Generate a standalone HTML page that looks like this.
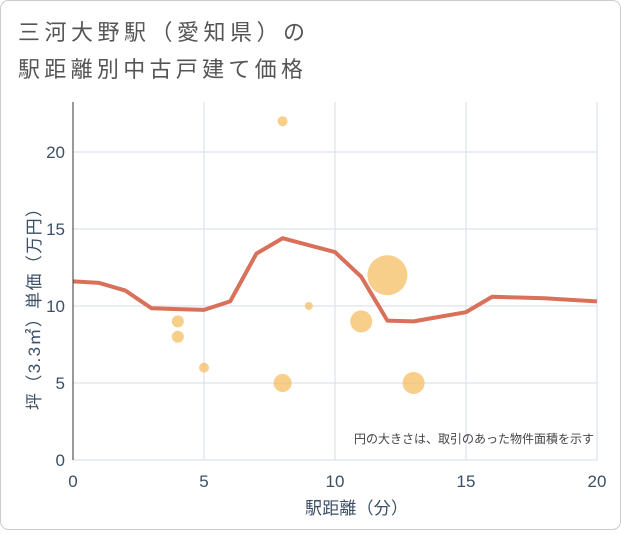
<!DOCTYPE html>
<html><head><meta charset="utf-8"><style>
body{margin:0;background:#fff;font-family:"Liberation Sans","Noto Sans CJK JP",sans-serif}
#wrap{position:relative;width:621px;height:530px}
</style></head><body>
<div id="wrap">
<svg id="chart" width="621" height="530" xmlns="http://www.w3.org/2000/svg">
<rect x="0.5" y="0.5" width="620" height="529" rx="8" fill="#fff" stroke="#ccc"/>
<text x="18" y="40" font-size="22" fill="#555" textLength="287" lengthAdjust="spacing" font-family="Liberation Sans, Noto Sans CJK JP, sans-serif">三河大野駅（愛知県）の</text>
<text x="18" y="77" font-size="22" fill="#555" textLength="285" lengthAdjust="spacing" font-family="Liberation Sans, Noto Sans CJK JP, sans-serif">駅距離別中古戸建て価格</text>
<g id="grid"></g><g id="marks"></g><g id="axes"></g>
<text x="594" y="443" font-size="12" fill="#444" text-anchor="end" font-family="Liberation Sans, Noto Sans CJK JP, sans-serif">円の大きさは、取引のあった物件面積を示す</text>
<text x="305" y="514" font-size="17" fill="#3d4f66" textLength="103" lengthAdjust="spacing" font-family="Liberation Sans, Noto Sans CJK JP, sans-serif">駅距離（分）</text>
<text transform="translate(40,410) rotate(-90)" font-size="17" fill="#3d4f66" textLength="210" lengthAdjust="spacing" font-family="Liberation Sans, Noto Sans CJK JP, sans-serif">坪（3.3㎡）単価（万円）</text>
</svg></div>
<script>
const lineX=[0,1,2,3,4,5,6,7,8,9,10,11,12,13,14,15,16,17,18,19,20];
const lineY=[11.6,11.5,11,9.85,9.8,9.75,10.3,13.4,14.4,13.95,13.5,11.9,9.05,9.0,9.3,9.6,10.6,10.55,10.5,10.4,10.3];
const bubbleX=[8,4,4,5,8,9,11,12,13];
const bubbleY=[22,9,8,6,5,10,9,12,5];
const bubbleR=[5,6,6,5,9,4,11,20,11];
const xTicks=[0,5,10,15,20];
const yTicks=[0,5,10,15,20];
const NS="http://www.w3.org/2000/svg";
const L=73,R=597,T=102,B=460;
const xs=v=>L+(v/20)*(R-L);
const ys=v=>B-(v/20)*(B-152);
function mk(tag,attrs,parent){const e=document.createElementNS(NS,tag);for(const k in attrs)e.setAttribute(k,attrs[k]);document.getElementById(parent).appendChild(e);return e;}
xTicks.forEach(t=>{
 const g=mk('line',{x1:xs(t),x2:xs(t),y1:T,y2:B,stroke:'#d5dee8','stroke-width':1},'grid');
 
 
 const tx=mk('text',{x:xs(t),y:B+27,'font-size':17,fill:'#3d4f66','text-anchor':'middle'},'axes');
 tx.textContent=t;
 
 
});
yTicks.forEach(t=>{
 const g=mk('line',{x1:L,x2:R,y1:ys(t),y2:ys(t),stroke:'#d5dee8','stroke-width':1},'grid');
 
 
 const tx=mk('text',{x:L-8,y:ys(t)+6,'font-size':17,fill:'#3d4f66','text-anchor':'end'},'axes');
 tx.textContent=t;
 
 
});
const ax=mk('line',{x1:L,x2:L,y1:T,y2:B,stroke:'#333','stroke-width':1},'axes');


const pts=lineX.map((x,i)=>xs(x)+','+ys(lineY[i])).join(' ');
const pl=mk('polyline',{points:pts,fill:'none',stroke:'#d9705a','stroke-width':4,'stroke-linejoin':'round'},'marks');


bubbleX.forEach((x,i)=>{
 const c=mk('circle',{cx:xs(x),cy:ys(bubbleY[i]),r:bubbleR[i],fill:'#f5b95a','fill-opacity':0.7},'marks');
 
 
});
</script>
</body></html>
